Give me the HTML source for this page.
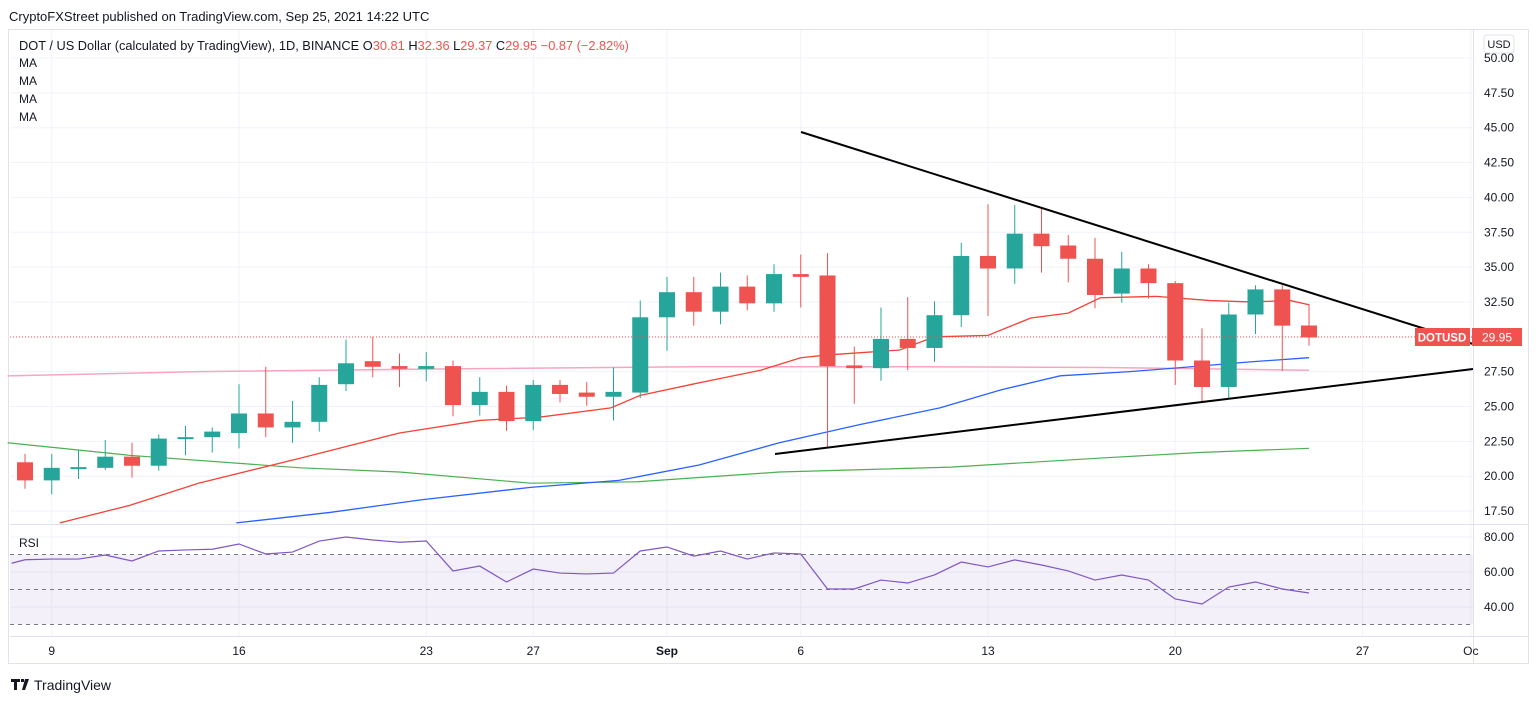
<!DOCTYPE html>
<html><head><meta charset="utf-8"><style>
body{margin:0;background:#fff;width:1536px;height:702px;overflow:hidden;font-family:"Liberation Sans",sans-serif}
svg text{font-family:"Liberation Sans",sans-serif}
</style></head><body>
<svg id="chart" width="1536" height="702" xmlns="http://www.w3.org/2000/svg">
<text x="9" y="21" font-size="13" fill="#131722">CryptoFXStreet published on TradingView.com, Sep 25, 2021 14:22 UTC</text>
<rect x="8.5" y="29.5" width="1520" height="634" fill="none" stroke="#e0e3eb"/>
<g id="grid"></g>
<rect x="10" y="554.5" width="1463" height="70" fill="#7e57c2" fill-opacity="0.09"/>
<g id="rsiLevels"></g>
<g id="mas"></g>
<g id="candles"></g>
<line x1="801" y1="132" x2="1473" y2="344" stroke="#000" stroke-width="2"/>
<line x1="775" y1="454" x2="1473" y2="369" stroke="#000" stroke-width="2"/>
<line x1="10" y1="337" x2="1473" y2="337" stroke="#ef5350" stroke-dasharray="1,2"/>
<g id="rsi"></g>
<line x1="1473.5" y1="30" x2="1473.5" y2="663" stroke="#e0e3eb"/>
<line x1="10" y1="524.5" x2="1528" y2="524.5" stroke="#e0e3eb"/>
<line x1="10" y1="636.5" x2="1528" y2="636.5" stroke="#e0e3eb"/>
<g id="axis"></g>
<g id="taxis"></g>
<rect x="1484" y="35" width="30" height="18" rx="3" fill="#fff" stroke="#e0e3eb"/>
<text x="1499" y="48" font-size="11" text-anchor="middle" fill="#131722">USD</text>
<rect x="1415" y="328" width="55" height="18" fill="#ef5350"/>
<text x="1442" y="341.5" font-size="11.5" font-weight="bold" text-anchor="middle" fill="#fff">DOTUSD</text>
<rect x="1472" y="328" width="50" height="18" fill="#ef5350"/>
<text x="1497" y="341.5" font-size="12" text-anchor="middle" fill="#fff">29.95</text>
<text x="19" y="50" font-size="12.8" fill="#131722">DOT / US Dollar (calculated by TradingView), 1D, BINANCE  <tspan fill="#131722">O</tspan><tspan fill="#ef5350">30.81</tspan>  <tspan fill="#131722">H</tspan><tspan fill="#ef5350">32.36</tspan>  <tspan fill="#131722">L</tspan><tspan fill="#ef5350">29.37</tspan>  <tspan fill="#131722">C</tspan><tspan fill="#ef5350">29.95</tspan>  <tspan fill="#ef5350">−0.87 (−2.82%)</tspan></text>
<text x="19" y="67" font-size="12" fill="#131722">MA</text>
<text x="19" y="85" font-size="12" fill="#131722">MA</text>
<text x="19" y="103" font-size="12" fill="#131722">MA</text>
<text x="19" y="121" font-size="12" fill="#131722">MA</text>
<text x="19" y="547" font-size="12" fill="#131722">RSI</text>
<g><path d="M11 679h9v3h-3v8h-3v-8h-3z M21 679h3v3h-3z M25 679h4l-4 11h-3z" fill="#131722"/><text x="34" y="690" font-size="14" fill="#131722">TradingView</text></g>
</svg>
<script>
const opens  =[21.0,19.7,20.55,20.6,21.4,20.75,22.7,22.8,23.1,24.5,23.5,23.9,26.6,28.25,27.9,27.7,27.9,25.1,26.05,23.95,26.55,26.0,25.7,26.0,31.4,33.2,31.8,33.6,32.4,34.5,34.4,27.95,27.75,29.85,29.2,31.55,35.8,34.9,37.4,36.55,35.6,33.1,34.9,33.85,28.3,26.4,31.6,33.4,30.81];
const highs  =[21.6,21.6,21.9,22.6,22.4,23.0,23.6,23.5,26.6,27.85,25.4,27.1,29.8,30.0,28.8,28.9,28.3,27.1,26.5,26.9,26.9,26.75,27.8,32.6,34.3,34.3,34.6,34.4,35.2,35.9,36.0,29.3,32.1,32.85,32.55,36.75,39.5,39.45,39.2,37.3,37.1,36.1,35.2,34.0,30.6,32.45,33.7,33.7,32.36];
const lows   =[19.1,18.7,19.8,20.45,19.9,20.4,21.5,21.7,22.0,22.8,22.4,23.2,26.1,27.1,26.4,26.8,24.3,24.35,23.25,23.3,25.3,25.05,24.0,25.6,29.0,30.8,30.9,31.9,31.8,32.1,22.0,25.2,26.85,27.6,28.2,30.7,31.5,33.8,34.6,33.9,32.05,32.45,32.75,26.55,25.3,25.6,30.2,27.55,29.37];
const closes =[19.7,20.6,20.65,21.4,20.75,22.7,22.8,23.2,24.5,23.5,23.9,26.55,28.1,27.85,27.7,27.9,25.1,26.05,23.95,26.55,25.9,25.7,26.05,31.4,33.2,31.8,33.6,32.4,34.5,34.3,27.9,27.75,29.85,29.2,31.55,35.8,34.9,37.4,36.5,35.6,33.0,34.9,33.85,28.3,26.4,31.6,33.4,30.8,29.95];
const rsiVals=[67,67.4,67.4,69.7,66.3,72,72.6,73,76,70.3,71.4,77.7,80,78.3,77,77.7,60.6,63.4,54.3,61.7,59.4,58.9,59.4,72,74.3,69.1,72,67.4,70.9,70.3,50.3,50.3,55.4,53.7,58.3,65.7,62.9,66.9,64,60.6,55.4,58.3,55.4,44.6,41.7,51.4,54.3,50.3,48];
const maRedIdx=[1.3,3.9,6.5,10.3,14,17,19.3,21.9,23,25.2,27.5,29,30,32.7,34,36,37.6,39,40.2,42.3,44.3,45.8,47.3,48];
const maRedVal=[16.65,17.9,19.5,21.3,23.1,24.0,24.25,24.9,25.8,26.7,27.6,28.5,28.7,29.05,30.0,30.1,31.35,31.7,32.8,32.9,32.6,32.5,32.6,32.3];
const maBlueIdx=[7.9,11.4,14.8,18.9,22.2,25.2,28.2,31.2,34.2,36.5,38.7,41.3,43.6,45.8,48];
const maBlueVal=[16.65,17.4,18.3,19.2,19.7,20.8,22.4,23.7,24.9,26.2,27.2,27.5,27.85,28.2,28.5];
const maPinkIdx=[-0.65,6.5,15.9,25.2,32.7,40.2,48];
const maPinkVal=[27.2,27.5,27.7,27.85,27.85,27.8,27.6];
const maGreenIdx=[-0.65,3.9,10.3,14,18.9,22.9,28.2,34.6,40.2,43.9,48];
const maGreenVal=[22.4,21.5,20.6,20.3,19.5,19.6,20.3,20.65,21.3,21.7,22.0];
const priceTicks=[50,47.5,45,42.5,40,37.5,35,32.5,30,27.5,25,22.5,20,17.5];
const rsiTicks=[80,60,40];
const dateLabels=["9","16","23","27","Sep","6","13","20","27","Oc"];
const dateIdx=[1,8,15,19,24,29,36,43,50,54.05];

const NS="http://www.w3.org/2000/svg";
const X=i=>25+i*26.75;
const Y=p=>58+(50-p)*13.94;
const RY=r=>537+(80-r)*1.75;
function mk(tag,attrs,parent){const e=document.createElementNS(NS,tag);for(const k in attrs)e.setAttribute(k,attrs[k]);parent.appendChild(e);return e;}
const G=id=>document.getElementById(id);

priceTicks.forEach(p=>{
  const l=mk('line',{x1:10,x2:1473,y1:Y(p),y2:Y(p),stroke:'#f0f3fa'},G('grid'));
  
  
  const t=mk('text',{x:1484,y:Y(p)+4,'font-size':12,fill:'#131722'},G('axis'));
  t.textContent=p.toFixed(2);
  
  
});
rsiTicks.forEach(r=>{
  const l=mk('line',{x1:10,x2:1473,y1:RY(r),y2:RY(r),stroke:'#f0f3fa'},G('grid'));
  
  
  const t=mk('text',{x:1484,y:RY(r)+4,'font-size':12,fill:'#131722'},G('axis'));
  t.textContent=r.toFixed(2);
  
  
});
[70,50,30].forEach(r=>{
  const l=mk('line',{x1:10,x2:1473,y1:RY(r),y2:RY(r),stroke:'#787b86','stroke-dasharray':'4,4'},G('rsiLevels'));
  
  
});
dateLabels.forEach((d,k)=>{
  const x=X(dateIdx[k]);
  if(x<1473){
    const l=mk('line',{x1:x,x2:x,y1:30,y2:636,stroke:'#f0f3fa'},G('grid'));
    
    
  }
  const t=mk('text',{x:x,y:655,'font-size':12,'text-anchor':'middle',fill:'#131722','font-weight':d==='Sep'?'bold':'normal'},G('taxis'));
  t.textContent=d;
  
  
});
function poly(idx,val,color,w,name){
  const pts=idx.map((i,k)=>X(i)+','+Y(val[k])).join(' ');
  const p=mk('polyline',{points:pts,fill:'none',stroke:color,'stroke-width':w},G('mas'));
  
  
}
poly(maPinkIdx,maPinkVal,'#f8a5c2',1.5,'ma-pink');
poly(maGreenIdx,maGreenVal,'#4caf50',1.2,'ma-green');
poly(maBlueIdx,maBlueVal,'#2962ff',1.3,'ma-blue');
poly(maRedIdx,maRedVal,'#f44336',1.3,'ma-red');
opens.forEach((o,i)=>{
  const c=closes[i],up=c>=o,col=up?'#26a69a':'#ef5350',x=X(i);
  const w=mk('line',{x1:x,x2:x,y1:Y(highs[i]),y2:Y(lows[i]),stroke:col,'stroke-width':1},G('candles'));
  
  
  const top=Y(Math.max(o,c)),h=Math.max(2,Math.abs(Y(o)-Y(c)));
  const b=mk('rect',{x:x-8,y:top,width:16,height:h,fill:col},G('candles'));
  
  
});
const rp=mk('polyline',{points:[X(-0.5)+','+RY(65)].concat(rsiVals.map((r,i)=>X(i)+','+RY(r))).join(' '),fill:'none',stroke:'#7e57c2','stroke-width':1.2},G('rsi'));


</script>
</body></html>
